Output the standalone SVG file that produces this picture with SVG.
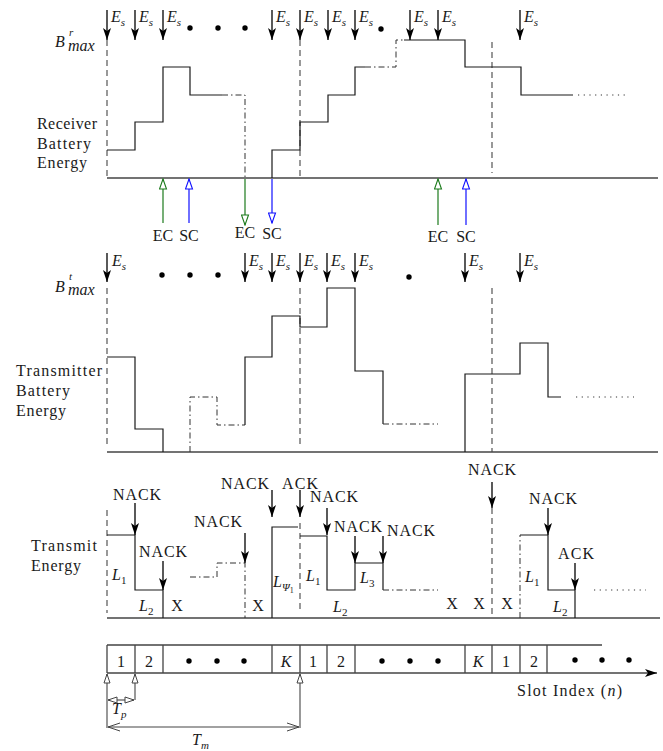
<svg xmlns="http://www.w3.org/2000/svg" width="663" height="751" viewBox="0 0 663 751">
<style>
text{font-family:"Liberation Serif","DejaVu Serif",serif;font-size:16px;fill:#1a1a1a}
.i{font-style:italic}
.s{font-size:11px}
.c{text-anchor:middle}
.ln{stroke:#1a1a1a;stroke-width:1.2;fill:none}
.ax{stroke:#444;stroke-width:1.3;fill:none}
.da{stroke:#555;stroke-width:1.2;stroke-dasharray:6,4;fill:none}
.dd{stroke:#333;stroke-width:1;stroke-dasharray:6,3,1.5,3;fill:none}
.dt{stroke:#333;stroke-width:1.2;stroke-dasharray:1.2,4.5;fill:none}
.ar{stroke:#000;stroke-width:1.3;fill:none;marker-end:url(#ah)}
.eg{stroke:#1b7a1b;stroke-width:1.2;fill:none;marker-end:url(#og)}
.eb{stroke:#1010ff;stroke-width:1.2;fill:none;marker-end:url(#ob)}
.up{stroke:#444;stroke-width:1.1;fill:none;marker-end:url(#ok)}
.bul{fill:#000}
</style>
<defs>
<marker id="ah" viewBox="0 0 12 8" refX="12" refY="4" markerWidth="12" markerHeight="8" markerUnits="userSpaceOnUse" orient="auto"><path d="M0,0 L12,4 L0,8 L3,4 z" fill="#000"/></marker>
<marker id="og" viewBox="-1 -1 12 9" refX="10" refY="3.5" markerWidth="12" markerHeight="9" markerUnits="userSpaceOnUse" orient="auto"><path d="M0,0 L10,3.5 L0,7 z" fill="#fff" stroke="#1b7a1b" stroke-width="1.1"/></marker>
<marker id="ob" viewBox="-1 -1 12 9" refX="10" refY="3.5" markerWidth="12" markerHeight="9" markerUnits="userSpaceOnUse" orient="auto"><path d="M0,0 L10,3.5 L0,7 z" fill="#fff" stroke="#1010ff" stroke-width="1.1"/></marker>
<marker id="ok" viewBox="-1 -1 11 8" refX="9" refY="3" markerWidth="11" markerHeight="8" markerUnits="userSpaceOnUse" orient="auto-start-reverse"><path d="M0,0 L9,3 L0,6 z" fill="#fff" stroke="#444" stroke-width="1"/></marker>
<marker id="vk" viewBox="-1 -5 14 10" refX="12" refY="0" markerWidth="14" markerHeight="10" markerUnits="userSpaceOnUse" orient="auto-start-reverse"><path d="M0,-4 L12,0 L0,4" fill="none" stroke="#444" stroke-width="1"/></marker>
<marker id="fa" viewBox="0 0 12 8" refX="12" refY="4" markerWidth="12" markerHeight="8" markerUnits="userSpaceOnUse" orient="auto"><path d="M0,0 L12,4 L0,8 L3,4 z" fill="#000"/></marker>
</defs>

<g id="receiver-panel">
<text x="55" y="47" class="i" font-size="17">B</text><text x="69" y="36" class="i s">r</text><text x="68" y="51" class="i" font-size="12">max</text>
<text x="37" y="129" textLength="60">Receiver</text>
<text x="37" y="149" textLength="54">Battery</text>
<text x="37" y="168" textLength="50">Energy</text>
<path class="da" d="M107,40 V178 M300,40 V178 M492,42 V173"/>
<path class="ax" d="M107,178 H658"/>
<path class="ln" d="M107,150 H135 V122 H163 V67 H190 V95 H222"/>
<path class="dd" d="M222,95 H245 V178"/>
<path class="ln" d="M272,178 V150 H300 V122 H328 V95 H355 V67 H365"/>
<path class="dd" d="M365,67 H396 V40 H404"/>
<path class="ln" d="M404,40 H465 V67 H521 V95 H573"/>
<path class="dt" d="M578,95 H627"/>
<circle class="bul" cx="190" cy="28" r="2.7"/><circle class="bul" cx="218" cy="28" r="2.7"/><circle class="bul" cx="245" cy="28" r="2.7"/><circle class="bul" cx="381" cy="29" r="2.7"/>
<text x="111" y="22" class="i">E<tspan class="s" dy="4">s</tspan></text>
<text x="139" y="22" class="i">E<tspan class="s" dy="4">s</tspan></text>
<text x="167" y="22" class="i">E<tspan class="s" dy="4">s</tspan></text>
<text x="276" y="22" class="i">E<tspan class="s" dy="4">s</tspan></text>
<text x="304" y="22" class="i">E<tspan class="s" dy="4">s</tspan></text>
<text x="332" y="22" class="i">E<tspan class="s" dy="4">s</tspan></text>
<text x="359" y="22" class="i">E<tspan class="s" dy="4">s</tspan></text>
<text x="414" y="22" class="i">E<tspan class="s" dy="4">s</tspan></text>
<text x="442" y="22" class="i">E<tspan class="s" dy="4">s</tspan></text>
<text x="524" y="22" class="i">E<tspan class="s" dy="4">s</tspan></text>
<text x="163" y="241" class="c">EC</text><text x="189" y="241" class="c">SC</text>
<text x="245" y="238" class="c">EC</text><text x="272" y="239" class="c">SC</text>
<text x="438" y="242" class="c">EC</text><text x="466" y="242" class="c">SC</text>
</g>

<g id="transmitter-panel">
<text x="55" y="292" class="i" font-size="17">B</text><text x="69" y="280" class="i s">t</text><text x="68" y="295" class="i" font-size="12">max</text>
<text x="16" y="376" textLength="86">Transmitter</text>
<text x="16" y="396" textLength="54">Battery</text>
<text x="16" y="416" textLength="50">Energy</text>
<path class="da" d="M107,288 V448 M300,288 V448 M492,288 V452"/>
<path class="ax" d="M107,452 H658"/>
<path class="ln" d="M107,357 H135 V429 H163 V452"/>
<path class="dd" d="M190,452 V397 H217 V425 H245"/>
<path class="ln" d="M245,425 V357 H272 V316 H300 V327 H327 V288 H355 V371 H383 V424"/>
<path class="dd" d="M383,424 H438"/>
<path class="ln" d="M465,452 V374 H520 V343 H548 V397 H561"/>
<path class="dt" d="M576,397 H634"/>
<circle class="bul" cx="162" cy="275" r="2.7"/><circle class="bul" cx="190" cy="275" r="2.7"/><circle class="bul" cx="218" cy="275" r="2.7"/><circle class="bul" cx="409" cy="277" r="2.7"/>
<text x="112" y="266" class="i">E<tspan class="s" dy="4">s</tspan></text>
<text x="249" y="266" class="i">E<tspan class="s" dy="4">s</tspan></text>
<text x="276" y="266" class="i">E<tspan class="s" dy="4">s</tspan></text>
<text x="304" y="266" class="i">E<tspan class="s" dy="4">s</tspan></text>
<text x="331" y="266" class="i">E<tspan class="s" dy="4">s</tspan></text>
<text x="359" y="266" class="i">E<tspan class="s" dy="4">s</tspan></text>
<text x="469" y="266" class="i">E<tspan class="s" dy="4">s</tspan></text>
<text x="524" y="266" class="i">E<tspan class="s" dy="4">s</tspan></text>
</g>

<g id="transmit-panel">
<text x="31" y="551" textLength="66">Transmit</text>
<text x="31" y="571" textLength="50">Energy</text>
<path class="da" d="M107,510 V613 M300,523 V613 M492,508 V618"/>
<path class="ax" d="M107,618 H660"/>
<path class="ln" d="M107,535 H135 V590 H163 V618"/>
<path class="dd" d="M190,577 H217 V563 H245 V618"/>
<path class="ln" d="M272,618 V527 H298"/>
<path class="ln" d="M300,536 H327 V590 H355 V563 H383 V590"/>
<path class="dd" d="M383,590 H438"/>
<path class="dd" d="M520,618 V535"/>
<path class="ln" d="M520,535 H548 V590 H575 V618"/>
<path class="dt" d="M594,590 H646"/>
<text x="137" y="500" class="c" textLength="48">NACK</text>
<text x="163" y="557" class="c" textLength="48">NACK</text>
<text x="218" y="527" class="c" textLength="48">NACK</text>
<text x="245" y="489" class="c" textLength="48">NACK</text>
<text x="300" y="489" class="c" textLength="36">ACK</text>
<text x="334" y="502" class="c" textLength="48">NACK</text>
<text x="358" y="532" class="c" textLength="48">NACK</text>
<text x="411" y="536" class="c" textLength="48">NACK</text>
<text x="492" y="475" class="c" textLength="48">NACK</text>
<text x="553" y="504" class="c" textLength="48">NACK</text>
<text x="576" y="559" class="c" textLength="36">ACK</text>
<text x="112" y="580" class="i">L<tspan class="s" font-style="normal" dy="4">1</tspan></text>
<text x="139" y="611" class="i">L<tspan class="s" font-style="normal" dy="4">2</tspan></text>
<text x="273" y="587" class="i">L<tspan class="s" dy="4">Ψ</tspan><tspan font-size="8" font-style="normal" dy="2">1</tspan></text>
<text x="306" y="581" class="i">L<tspan class="s" font-style="normal" dy="4">1</tspan></text>
<text x="333" y="612" class="i">L<tspan class="s" font-style="normal" dy="4">2</tspan></text>
<text x="360" y="583" class="i">L<tspan class="s" font-style="normal" dy="4">3</tspan></text>
<text x="525" y="582" class="i">L<tspan class="s" font-style="normal" dy="4">1</tspan></text>
<text x="553" y="612" class="i">L<tspan class="s" font-style="normal" dy="4">2</tspan></text>
<text x="177" y="611" class="c">X</text>
<text x="258" y="611" class="c">X</text>
<text x="452" y="609" class="c">X</text>
<text x="479" y="609" class="c">X</text>
<text x="507" y="609" class="c">X</text>
</g>

<g id="slot-panel">
<path class="ax" d="M107,645 H602 M107,645 V673 M135,645 V673 M163,645 V673 M272,645 V673 M300,645 V673 M327,645 V673 M355,645 V673 M465,645 V673 M492,645 V673 M520,645 V673 M547,645 V673"/>
<path class="ax" d="M107,673 H657" marker-end="url(#fa)"/>
<text x="121" y="667" class="c">1</text><text x="149" y="667" class="c">2</text>
<text x="286" y="667" class="c i">K</text><text x="313" y="667" class="c">1</text><text x="341" y="667" class="c">2</text>
<text x="478" y="667" class="c i">K</text><text x="506" y="667" class="c">1</text><text x="534" y="667" class="c">2</text>
<circle class="bul" cx="189" cy="661" r="2.7"/><circle class="bul" cx="217" cy="661" r="2.7"/><circle class="bul" cx="244" cy="661" r="2.7"/>
<circle class="bul" cx="382" cy="661" r="2.7"/><circle class="bul" cx="410" cy="661" r="2.7"/><circle class="bul" cx="438" cy="661" r="2.7"/>
<circle class="bul" cx="575" cy="660" r="2.7"/><circle class="bul" cx="602" cy="660" r="2.7"/><circle class="bul" cx="629" cy="660" r="2.7"/>
<text x="517" y="696" textLength="105">Slot Index (<tspan class="i">n</tspan>)</text>
<text x="112" y="714" class="i">T<tspan class="s" dy="4">p</tspan></text>
<text x="192" y="745" class="i">T<tspan class="s" dy="4">m</tspan></text>
</g>

<g id="connectors">
<path class="ar" d="M107,10 V40"/><path class="ar" d="M135,10 V40"/><path class="ar" d="M163,10 V40"/>
<path class="ar" d="M272,10 V40"/><path class="ar" d="M300,10 V40"/><path class="ar" d="M328,10 V40"/><path class="ar" d="M355,10 V40"/>
<path class="ar" d="M410,10 V40"/><path class="ar" d="M438,10 V40"/><path class="ar" d="M520,10 V40"/>
<path class="eg" d="M163,223 V179"/><path class="eb" d="M189,223 V179"/>
<path class="eg" d="M245,179 V225"/><path class="eb" d="M272,179 V223"/>
<path class="eg" d="M438,225 V179"/><path class="eb" d="M466,225 V179"/>
<path class="ar" d="M107,253 V282"/><path class="ar" d="M245,253 V282"/><path class="ar" d="M272,253 V282"/><path class="ar" d="M300,253 V282"/>
<path class="ar" d="M327,253 V282"/><path class="ar" d="M355,253 V282"/><path class="ar" d="M465,253 V282"/><path class="ar" d="M520,253 V282"/>
<path class="ar" d="M135,503 V535"/><path class="ar" d="M163,561 V590"/><path class="ar" d="M245,533 V563"/>
<path class="ar" d="M272,490 V517"/><path class="ar" d="M300,490 V517"/>
<path class="ar" d="M327,508 V535"/><path class="ar" d="M355,536 V563"/><path class="ar" d="M383,536 V563"/>
<path class="ar" d="M492,482 V508"/><path class="ar" d="M548,508 V535"/><path class="ar" d="M575,563 V590"/>
<path class="up" d="M107,728 V674"/><path class="up" d="M135,700 V674"/><path class="up" d="M300,728 V674"/>
<path class="up" d="M108,700 H134" marker-start="url(#ok)"/>
<path stroke="#444" stroke-width="1.1" fill="none" d="M108,727 H299" marker-start="url(#vk)" marker-end="url(#vk)"/>
</g>
</svg>
